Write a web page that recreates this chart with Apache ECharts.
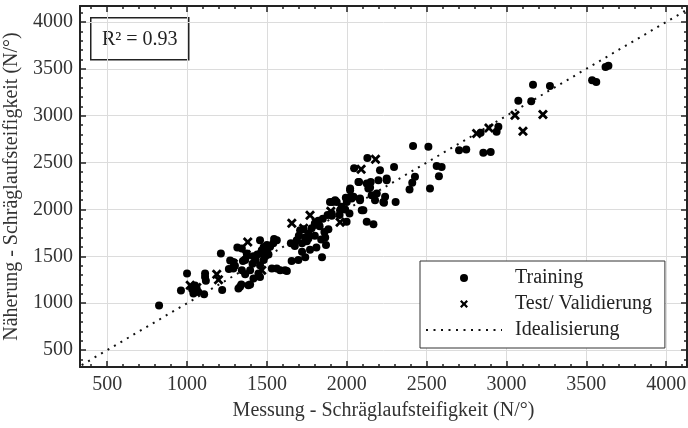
<!DOCTYPE html>
<html>
<head>
<meta charset="utf-8">
<script src="https://cdn.jsdelivr.net/npm/echarts@6/dist/echarts.min.js"></script>
<style>html,body{margin:0;padding:0;background:#fff}#chart{width:688px;height:428px}</style>
</head>
<body>
<div id="chart"></div>
<script>
// ---- data ----
const seriesNames = ['Training', 'Test/ Validierung', 'Idealisierung'];
const trainingData = [
[825,975],[962,1135],[1000,1318],[1032,1150],[1040,1105],[1050,1190],[1060,1160],[1070,1120],[1107,1097],[1113,1318],[1113,1281],[1118,1240],[1212,1530],[1220,1142],
[1262,1365],[1270,1455],[1290,1441],[1290,1371],[1300,1400],[1315,1595],[1322,1158],[1332,1175],[1340,1200],[1343,1584],[1343,1353],[1350,1450],[1364,1460],[1364,1310],[1374,1531],[1384,1193],[1395,1353],[1395,1200],[1410,1420],[1415,1500],[1416,1264],[1430,1460],[1440,1520],[1447,1318],[1457,1673],[1457,1406],[1457,1281],[1460,1530],[1468,1566],[1480,1600],[1480,1460],[1490,1500],[1500,1560],[1500,1620],[1510,1520],[1520,1602],[1531,1371],[1540,1640],[1545,1685],[1562,1673],[1562,1371],[1583,1353],[1614,1353],[1625,1345],
[1650,1640],[1655,1450],[1675,1610],[1687,1673],[1697,1460],[1700,1720],[1708,1779],[1720,1640],[1720,1550],[1730,1790],[1740,1490],[1740,1700],[1750,1660],[1760,1740],[1760,1690],[1770,1570],[1780,1800],[1800,1720],[1800,1850],[1810,1595],[1822,1880],[1830,1820],[1840,1680],[1845,1490],[1850,1900],[1860,1760],[1865,1700],[1870,1620],[1880,1940],[1885,1790],[1895,2081],[1906,1932],[1906,1957],[1910,2080],[1927,2099],[1937,2081],[1955,1940],[1958,1993],[1968,2028],[1990,2000],[1994,2124],[1999,1868],[2000,2080],[2017,1957],
[2021,2224],[2021,2206],[2025,2134],[2031,2117],[2042,2137],[2046,2440],[2073,2294],[2077,2294],[2083,2117],[2083,2099],[2094,1993],[2104,1993],[2125,2276],[2125,1868],[2129,2549],[2135,2224],[2146,2234],[2150,2294],[2156,2152],[2167,1843],[2177,2099],[2188,2170],[2198,2312],[2208,2419],[2229,2081],[2233,2071],[2240,2137],[2250,2312],[2250,2330],[2296,2454],[2306,2081],[2393,2212],[2410,2285],[2415,2678],[2427,2348],[2511,2668],[2521,2224],[2563,2464],[2577,2355],[2594,2454],
[2703,2632],[2748,2640],[2838,2818],[2855,2606],[2901,2614],[2938,2828],[2949,2881],[3074,3160],[3155,3155],[3166,3331],[3272,3318],[3536,3377],[3562,3360],[3620,3520],[3638,3532]
];
const testData = [
[1020,1193],[1061,1168],[1186,1310],[1197,1250],[1290,1420],[1370,1520],[1380,1654],[1468,1353],[1500,1560],[1656,1852],[1730,1800],[1770,1939],[1810,1860],[1900,1980],[1958,1865],[2090,2428],[2180,2535],[2813,2810],[2890,2870],[3053,3005],[3103,2835],[3228,3012]
];
const idealLine = [[300,300],[4200,4200]];
const r2Label = 'R² = 0.93';
const xTickLabels = [500,1000,1500,2000,2500,3000,3500,4000];
const yTickLabels = [500,1000,1500,2000,2500,3000,3500,4000];
const xTitle = 'Messung - Schräglaufsteifigkeit (N/°)';
const yTitle = 'Näherung - Schräglaufsteifigkeit (N/°)';
const xRange = [330, 4130];
const yRange = [320, 4170];

// minor tick positions (every 100, excluding majors)
function minorTicks(lo, hi) {
  const out = [];
  for (let v = Math.ceil(lo / 100) * 100; v <= hi; v += 100) if (v % 500 !== 0) out.push(v);
  return out;
}
const xMinor = minorTicks(xRange[0], xRange[1]);
const yMinor = minorTicks(yRange[0], yRange[1]);

const FONT = '"Liberation Serif", "Times New Roman", serif';
const FRAME = '#222';
const crossPath = 'path://M2,0 L5,3 L8,0 L10,2 L7,5 L10,8 L8,10 L5,7 L2,10 L0,8 L3,5 L0,2 Z';

function axisDef(dim, pos, ticks, isMajor, withLabels, range) {
  const a = {
    type: 'value', position: pos, min: range[0], max: range[1],
    axisLine: { show: isMajor, onZero: false, lineStyle: { color: FRAME, width: 2 } },
    axisTick: { show: true, inside: true, length: isMajor ? 6 : 3, customValues: ticks, lineStyle: { color: FRAME, width: 1.5 } },
    axisLabel: withLabels ? { show: true, customValues: ticks, formatter: v => String(v), fontFamily: FONT, fontSize: 20, color: '#333', margin: dim === 'x' ? 8 : 7 } : { show: false },
    splitLine: { show: withLabels, lineStyle: { color: '#dcdcdc', width: 1 } }
  };
  if (withLabels) {
    a.name = dim === 'x' ? xTitle : yTitle;
    a.nameLocation = 'middle';
    a.nameGap = dim === 'x' ? 34 : 55;
    a.nameTextStyle = { fontFamily: FONT, fontSize: 20, color: '#333' };
  }
  return a;
}

const chart = echarts.init(document.getElementById('chart'), null, { renderer: 'canvas' });
chart.setOption({
  animation: false,
  backgroundColor: '#fff',
  grid: { left: 80, right: 1, top: 6, bottom: 61, containLabel: false, outerBoundsMode: 'none' },
  xAxis: [
    axisDef('x', 'bottom', xTickLabels, true, true, xRange),
    axisDef('x', 'bottom', xMinor, false, false, xRange),
    axisDef('x', 'top', xTickLabels, true, false, xRange),
    axisDef('x', 'top', xMinor, false, false, xRange)
  ],
  yAxis: [
    axisDef('y', 'left', yTickLabels, true, true, yRange),
    axisDef('y', 'left', yMinor, false, false, yRange),
    axisDef('y', 'right', yTickLabels, true, false, yRange),
    axisDef('y', 'right', yMinor, false, false, yRange)
  ],
  legend: {
    left: 420, top: 261, orient: 'vertical',
    itemWidth: 76, itemHeight: 8, itemGap: 6,
    padding: [7, 13, 8, 5],
    borderColor: '#333', borderWidth: 1, borderRadius: 0,
    backgroundColor: '#fff',
    textStyle: { fontFamily: FONT, fontSize: 20, color: '#222', padding: [0, 0, 0, 8] },
    data: [
      { name: seriesNames[0] },
      { name: seriesNames[1] },
      { name: seriesNames[2], itemStyle: { opacity: 0 } }
    ]
  },
  graphic: [{
    type: 'group', left: 90, top: 17,
    children: [
      { type: 'rect', shape: { x: 0, y: 0, width: 98, height: 42 }, style: { fill: '#fff', stroke: FRAME, lineWidth: 1.5 } },
      { type: 'text', x: 49, y: 22, style: { text: r2Label, fontFamily: FONT, fontSize: 20, fill: '#222', align: 'center', verticalAlign: 'middle' } }
    ]
  }],
  series: [
    {
      name: seriesNames[2], type: 'line', data: idealLine, xAxisIndex: 0, yAxisIndex: 0,
      symbol: 'none', clip: true, silent: true,
      lineStyle: { color: '#111', width: 2, type: [2, 5.5], cap: 'butt' },
      itemStyle: { color: '#111' }, z: 1
    },
    {
      name: seriesNames[0], type: 'scatter', data: trainingData, xAxisIndex: 0, yAxisIndex: 0,
      symbol: 'circle', symbolSize: 8, itemStyle: { color: '#000', opacity: 1 }, z: 3
    },
    {
      name: seriesNames[1], type: 'scatter', data: testData, xAxisIndex: 0, yAxisIndex: 0,
      symbol: crossPath, symbolSize: 10, itemStyle: { color: '#000', opacity: 1 }, z: 4
    }
  ]
});
</script>
</body>
</html>
